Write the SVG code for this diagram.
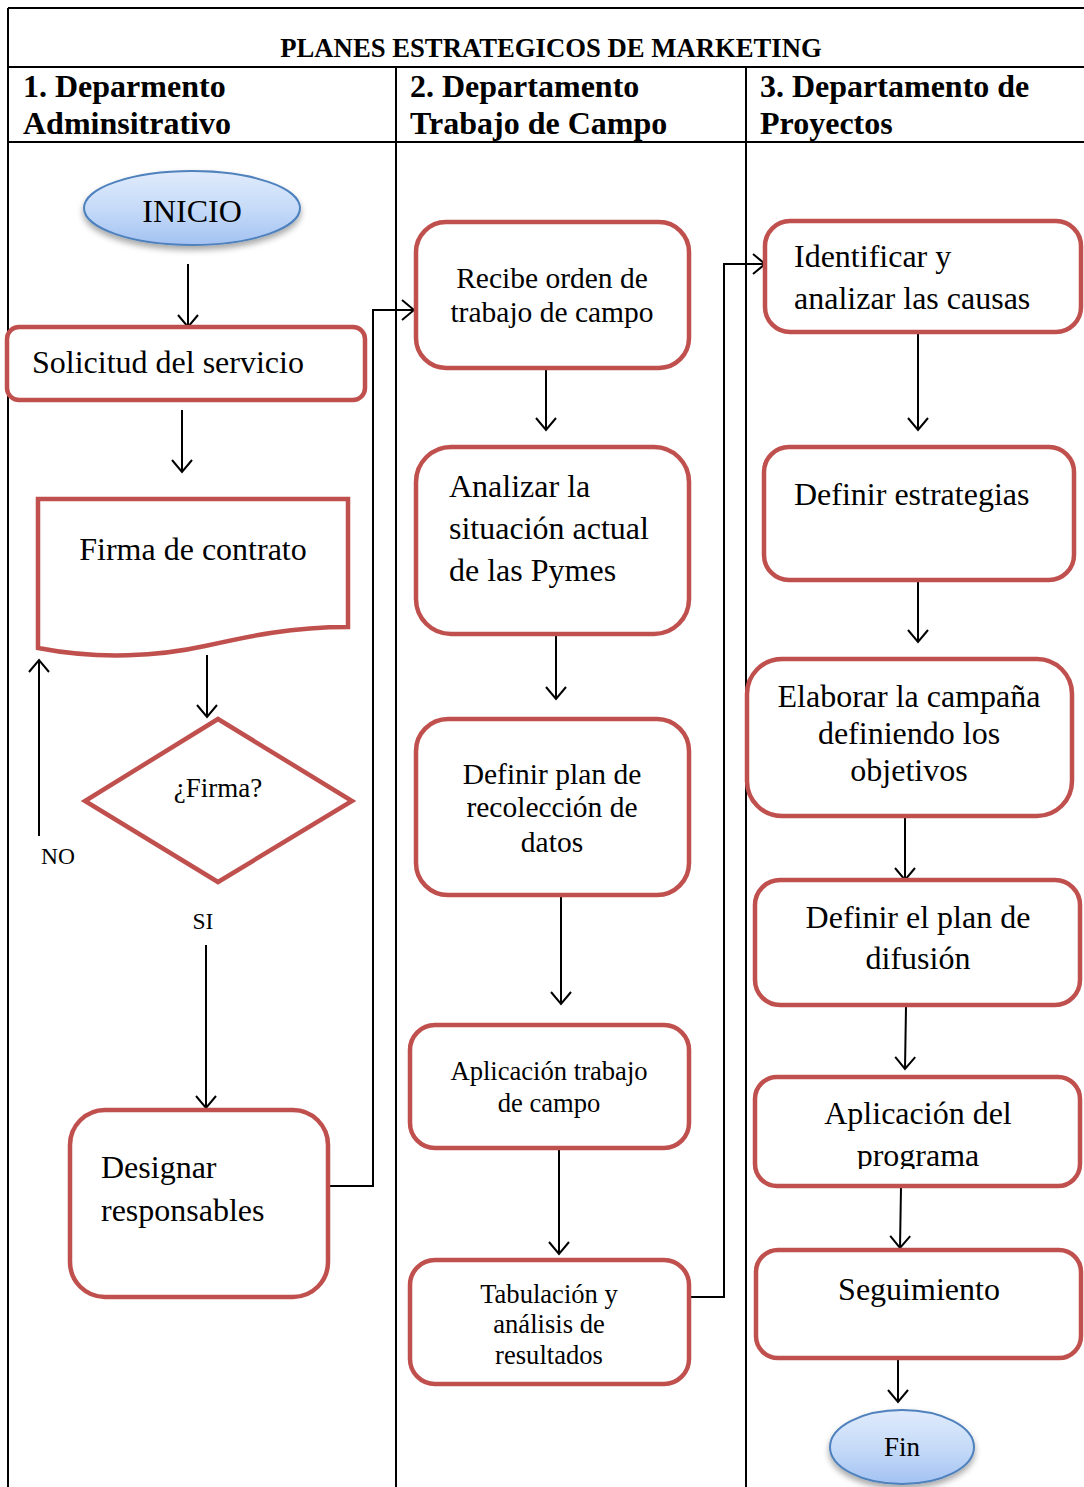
<svg xmlns="http://www.w3.org/2000/svg" width="1084" height="1487" viewBox="0 0 1084 1487">
  <style>
    text { font-family: "Liberation Serif", "Times New Roman", serif; fill: #000; }
    .title { font-size: 26.7px; font-weight: bold; }
    .head { font-size: 32px; font-weight: bold; }
    .grid { stroke: #000; stroke-width: 2; fill: none; }
    .box { fill: #fff; stroke: #c0504d; stroke-width: 4.5; }
    .term { stroke: #4f81bd; stroke-width: 2; fill: url(#termFill); filter: url(#shadow); }
    .flow { stroke: #000; stroke-width: 2; fill: none; marker-end: url(#arrow); }
    .t30 { font-size: 32px; }
    .t28 { font-size: 29.5px; }
    .t25 { font-size: 26.6px; }
    .t23 { font-size: 27px; }
    .t20 { font-size: 23.5px; }
    .mid { text-anchor: middle; }
  </style>
  <defs>
    <linearGradient id="termFill" x1="0" y1="0" x2="0" y2="1">
      <stop offset="0" stop-color="#e0ebfc"/>
      <stop offset="0.5" stop-color="#c6dbf8"/>
      <stop offset="1" stop-color="#a3c2f2"/>
    </linearGradient>
    <filter id="shadow" x="-20%" y="-20%" width="140%" height="160%">
      <feDropShadow dx="0" dy="4" stdDeviation="3" flood-color="#000" flood-opacity="0.35"/>
    </filter>
    <marker id="arrow" markerUnits="userSpaceOnUse" markerWidth="16" markerHeight="24" viewBox="0 0 16 24" refX="14" refY="12" orient="auto">
      <path d="M2,2 L14,12 L2,22" fill="none" stroke="#000" stroke-width="2"/>
    </marker>
    <clipPath id="clipProg">
      <rect x="755" y="1077" width="325" height="92"/>
    </clipPath>
  </defs>

  <rect width="1084" height="1487" fill="#fff"/>

  <!-- swimlane table -->
  <g id="table">
    <path class="grid" d="M8,8 H1084 M8,67 H1084 M8,142 H1084 M8,8 V1487 M396,67 V1487 M746,67 V1487"/>
    <text class="title mid" x="551" y="57">PLANES ESTRATEGICOS DE MARKETING</text>
    <text class="head" x="23" y="97">1. Deparmento</text>
    <text class="head" x="23" y="134">Adminsitrativo</text>
    <text class="head" x="410" y="97">2. Departamento</text>
    <text class="head" x="410" y="134">Trabajo de Campo</text>
    <text class="head" x="760" y="97">3. Departamento de</text>
    <text class="head" x="760" y="134">Proyectos</text>
  </g>

  <!-- connectors -->
  <g id="connectors">
    <path class="flow" d="M188,264 V327"/>
    <path class="flow" d="M182,410 V472"/>
    <path class="flow" d="M207,655 V717"/>
    <path class="flow" d="M39,836 V660"/>
    <path class="flow" d="M206,945 V1108"/>
    <path class="flow" d="M328,1186 H373 V310 H414"/>
    <path class="flow" d="M546,368 V430"/>
    <path class="flow" d="M556,636 V699"/>
    <path class="flow" d="M561,897 V1004"/>
    <path class="flow" d="M559,1145 V1254"/>
    <path class="flow" d="M689,1297 H724 V264 H765"/>
    <path class="flow" d="M918,333 V430"/>
    <path class="flow" d="M918,580 V642"/>
    <path class="flow" d="M905,818 V880"/>
    <path class="flow" d="M906,1007 L905,1069"/>
    <path class="flow" d="M901,1187 L900,1248"/>
    <path class="flow" d="M898,1360 V1402"/>
    <text class="t20" x="41" y="864">NO</text>
    <text class="t20 mid" x="203" y="929">SI</text>
  </g>

  <!-- lane 1 -->
  <g id="inicio">
    <ellipse class="term" cx="192" cy="208" rx="108" ry="37"/>
    <text class="t30 mid" x="192" y="222">INICIO</text>
  </g>
  <g id="solicitud">
    <rect class="box" x="7" y="327" width="358" height="73" rx="12"/>
    <text class="t30" x="32" y="373">Solicitud del servicio</text>
  </g>
  <g id="firma-contrato">
    <path class="box" d="M38,499 H348 V627 C290,627 250,636 205,646 C160,656 100,660 38,648 Z"/>
    <text class="t30 mid" x="193" y="560">Firma de contrato</text>
  </g>
  <g id="firma-decision">
    <path class="box" d="M218,719 L352,801 L218,882 L85,801 Z"/>
    <text class="t23 mid" x="218" y="797">¿Firma?</text>
  </g>
  <g id="designar">
    <rect class="box" x="70" y="1110" width="258" height="187" rx="35"/>
    <text class="t30" x="101" y="1178">Designar</text>
    <text class="t30" x="101" y="1221">responsables</text>
  </g>

  <!-- lane 2 -->
  <g id="recibe-orden">
    <rect class="box" x="416" y="222" width="273" height="146" rx="30"/>
    <text class="t28 mid" x="552" y="288">Recibe orden de</text>
    <text class="t28 mid" x="552" y="322">trabajo de campo</text>
  </g>
  <g id="analizar">
    <rect class="box" x="416" y="447" width="273" height="187" rx="35"/>
    <text class="t30" x="449" y="497">Analizar la</text>
    <text class="t30" x="449" y="539">situación actual</text>
    <text class="t30" x="449" y="581">de las Pymes</text>
  </g>
  <g id="definir-plan">
    <rect class="box" x="416" y="719" width="273" height="176" rx="32"/>
    <text class="t28 mid" x="552" y="784">Definir plan de</text>
    <text class="t28 mid" x="552" y="817">recolección de</text>
    <text class="t28 mid" x="552" y="852">datos</text>
  </g>
  <g id="aplicacion-trabajo">
    <rect class="box" x="410" y="1025" width="279" height="123" rx="25"/>
    <text class="t25 mid" x="549" y="1080">Aplicación trabajo</text>
    <text class="t25 mid" x="549" y="1112">de campo</text>
  </g>
  <g id="tabulacion">
    <rect class="box" x="410" y="1260" width="279" height="124" rx="25"/>
    <text class="t25 mid" x="549" y="1303">Tabulación y</text>
    <text class="t25 mid" x="549" y="1333">análisis de</text>
    <text class="t25 mid" x="549" y="1364">resultados</text>
  </g>

  <!-- lane 3 -->
  <g id="identificar">
    <rect class="box" x="765" y="221" width="316" height="111" rx="25"/>
    <text class="t30" x="794" y="267">Identificar y</text>
    <text class="t30" x="794" y="309">analizar las causas</text>
  </g>
  <g id="estrategias">
    <rect class="box" x="764" y="447" width="310" height="133" rx="25"/>
    <text class="t30" x="794" y="505">Definir estrategias</text>
  </g>
  <g id="campana">
    <rect class="box" x="747" y="659" width="325" height="157" rx="35"/>
    <text class="t30 mid" x="909" y="707">Elaborar la campaña</text>
    <text class="t30 mid" x="909" y="744">definiendo los</text>
    <text class="t30 mid" x="909" y="781">objetivos</text>
  </g>
  <g id="difusion">
    <rect class="box" x="755" y="880" width="325" height="125" rx="25"/>
    <text class="t30 mid" x="918" y="928">Definir el plan de</text>
    <text class="t30 mid" x="918" y="969">difusión</text>
  </g>
  <g id="aplicacion-programa">
    <rect class="box" x="755" y="1077" width="325" height="109" rx="22"/>
    <g clip-path="url(#clipProg)">
      <text class="t30 mid" x="918" y="1124">Aplicación del</text>
      <text class="t30 mid" x="918" y="1166">programa</text>
    </g>
  </g>
  <g id="seguimiento">
    <rect class="box" x="756" y="1250" width="325" height="108" rx="22"/>
    <text class="t30 mid" x="919" y="1300">Seguimiento</text>
  </g>
  <g id="fin">
    <ellipse class="term" cx="902" cy="1447" rx="72" ry="37"/>
    <text class="t23 mid" x="902" y="1456">Fin</text>
  </g>
</svg>
